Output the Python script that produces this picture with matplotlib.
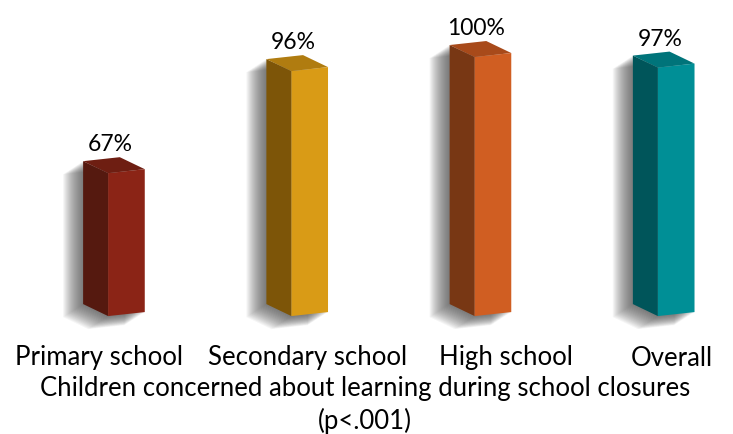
import numpy as np
import matplotlib.pyplot as plt
from matplotlib.patches import Polygon

# Data
categories = ["Primary school", "Secondary school", "High school", "Overall"]
values = [67, 96, 100, 97]
value_labels = ["67%", "96%", "100%", "97%"]
title = "Children concerned about learning during school closures\n(p<.001)"

front_colors = ["#8b2416", "#d99b16", "#d05e22", "#008f96"]
side_colors = ["#55190f", "#7d5508", "#783714", "#00555a"]
top_colors = ["#6e1e12", "#b07c10", "#a84a1a", "#00747a"]

# category labels are not centred exactly under the boxes (pixels)
label_shift = [-27, -2, 13, -4]

plt.rcParams["font.family"] = ["Lato", "DejaVu Sans"]

W, H = 733, 434
fig = plt.figure(figsize=(W / 100, H / 100), dpi=100)
ax = fig.add_axes([0, 0, 1, 1])
xmin, xmax = -0.69, 3.31
ymin, ymax = -7.1, 116.2
ax.set_xlim(xmin, xmax)
ax.set_ylim(ymin, ymax)
ax.axis("off")

# one pixel in data units
px = (xmax - xmin) / W
py = (ymax - ymin) / H

base = 26.4          # value where bars start (axis not drawn)
hw = 0.1             # half width of the front face
dx, dy = -25 * px, 12 * py   # depth of the box
skew = 4 * py        # slight perspective on the front face

for i, v in enumerate(values):
    x = i
    xl, xr = x - hw, x + hw
    outline = [(xl, base), (xr, base + skew), (xr, v + skew),
               (xr + dx, v + skew + dy), (xl + dx, v + dy), (xl + dx, base + dy)]
    # soft shadow
    for k in range(1, 21):
        shp = [(a - k * 1.0 * px, b - k * 0.65 * py) for a, b in outline]
        ax.add_patch(Polygon(shp, closed=True, facecolor="#404040",
                             edgecolor="none", alpha=0.05, zorder=1))
    front = [(xl, base), (xr, base + skew), (xr, v + skew), (xl, v)]
    side = [(xl, base), (xl, v), (xl + dx, v + dy), (xl + dx, base + dy)]
    top = [(xl, v), (xr, v + skew), (xr + dx, v + skew + dy), (xl + dx, v + dy)]
    ax.add_patch(Polygon(side, closed=True, facecolor=side_colors[i],
                         edgecolor="none", zorder=3))
    ax.add_patch(Polygon(top, closed=True, facecolor=top_colors[i],
                         edgecolor="none", zorder=3))
    ax.add_patch(Polygon(front, closed=True, facecolor=front_colors[i],
                         edgecolor="none", zorder=3))

    ax.text(x + dx / 2 - 4 * px, v + skew + dy + 2 * py, value_labels[i],
            ha="center", va="bottom", fontsize=16.5, color="black")
    ax.text(x + label_shift[i] * px, ymin + 76 * py, categories[i],
            ha="center", va="center", fontsize=18.5, color="black")

fig.text(0.498, 1 - 405 / H, title, ha="center", va="center",
         fontsize=18.5, color="black", linespacing=1.3)

fig.savefig("out.png", dpi=100, facecolor="white")
